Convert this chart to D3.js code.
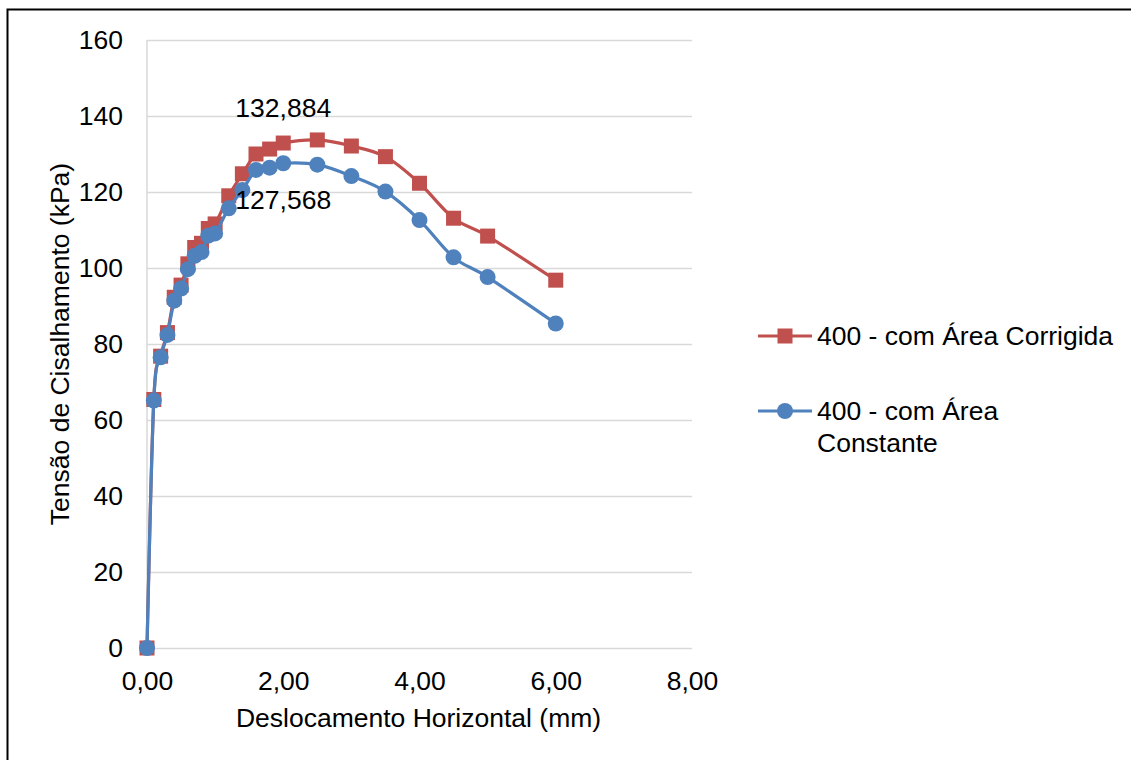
<!DOCTYPE html>
<html>
<head>
<meta charset="utf-8">
<script src="https://cdn.jsdelivr.net/npm/d3@7"></script>
<style>
  html, body { margin: 0; padding: 0; background: #fff; }
  svg { display: block; font-family: "Liberation Sans", Arial, sans-serif; }
</style>
</head>
<body>
<svg id="chart" width="1131" height="760"></svg>
<script>
// Horizontal displacement (mm)
const displacement = [0, 0.1, 0.2, 0.3, 0.4, 0.5, 0.6, 0.7, 0.8, 0.9, 1.0, 1.2, 1.4, 1.6, 1.8, 2.0, 2.5, 3.0, 3.5, 4.0, 4.5, 5.0, 6.0];

// Shear stress (kPa) – corrected area
const stressCorrected = [0, 65.4, 76.8, 83.0, 92.3, 95.5, 101.1, 105.4, 106.5, 110.4, 111.6, 119.0, 124.8, 130.0, 131.3, 132.884, 133.7, 132.1, 129.3, 122.3, 113.1, 108.4, 96.8];

// Shear stress (kPa) – constant area
const stressConstant = [0, 65.1, 76.5, 82.4, 91.4, 94.6, 99.7, 103.2, 104.2, 108.5, 109.1, 115.7, 120.5, 125.8, 126.4, 127.568, 127.2, 124.2, 120.1, 112.6, 102.8, 97.6, 85.4];

const seriesNames = ["400 - com Área Corrigida", "400 - com Área Constante"];
const xTickValues = [0, 2, 4, 6, 8];
const yTickValues = [0, 20, 40, 60, 80, 100, 120, 140, 160];
const peakIndex = 15;

const svg = d3.select("#chart");
const FONT = 26.5;
const red = "#C0504D", blue = "#4F81BD";

// outer frame
svg.append("rect")
  .attr("x", 7.5).attr("y", 9.5).attr("width", 1200).attr("height", 800)
  .attr("fill", "none").attr("stroke", "#000").attr("stroke-width", 2);

const plot = { left: 147, right: 692, top: 40, bottom: 648 };

const x = d3.scaleLinear().domain([0, 8]).range([plot.left, plot.right]);
const y = d3.scaleLinear().domain([0, 160]).range([plot.bottom, plot.top]);

// horizontal gridlines
svg.append("g")
  .attr("transform", `translate(${plot.left},0)`)
  .call(d3.axisLeft(y).tickValues(yTickValues).tickSize(-(plot.right - plot.left)).tickFormat(""))
  .call(g => g.select(".domain").remove())
  .call(g => g.selectAll("line").attr("stroke", "#d9d9d9").attr("stroke-width", 1.5));

// vertical axis line
svg.append("line")
  .attr("x1", plot.left).attr("x2", plot.left)
  .attr("y1", plot.top).attr("y2", plot.bottom)
  .attr("stroke", "#d9d9d9").attr("stroke-width", 1.5);

// y tick labels
svg.append("g")
  .attr("transform", `translate(${plot.left},0)`)
  .call(d3.axisLeft(y).tickValues(yTickValues).tickSize(0).tickPadding(24).tickFormat(d3.format("d")))
  .call(g => g.select(".domain").remove())
  .call(g => g.selectAll("text").attr("font-size", FONT).attr("fill", "#000")
    .attr("font-family", "Liberation Sans, Arial, sans-serif"));

// x tick labels
const fmtX = d => d3.format(".2f")(d).replace(".", ",");
svg.append("g")
  .attr("transform", `translate(0,${plot.bottom})`)
  .call(d3.axisBottom(x).tickValues(xTickValues).tickSize(0).tickPadding(23).tickFormat(fmtX))
  .call(g => g.select(".domain").remove())
  .call(g => g.selectAll("text").attr("font-size", FONT).attr("fill", "#000")
    .attr("font-family", "Liberation Sans, Arial, sans-serif"));

// axis titles
svg.append("text")
  .attr("x", (plot.left + plot.right) / 2 - 1).attr("y", 727)
  .attr("text-anchor", "middle").attr("font-size", FONT)
  .text("Deslocamento Horizontal (mm)");

svg.append("text")
  .attr("transform", `translate(69,${(plot.top + plot.bottom) / 2}) rotate(-90)`)
  .attr("text-anchor", "middle").attr("font-size", FONT)
  .text("Tensão de Cisalhamento (kPa)");

const line = d3.line().curve(d3.curveCatmullRom.alpha(0));

const ptsRed = displacement.map((d, i) => [x(d), y(stressCorrected[i])]);
const ptsBlue = displacement.map((d, i) => [x(d), y(stressConstant[i])]);

// corrected-area series
svg.append("path").attr("d", line(ptsRed))
  .attr("fill", "none").attr("stroke", red).attr("stroke-width", 3.2);
svg.append("g").selectAll("rect").data(ptsRed).join("rect")
  .attr("x", d => d[0] - 7.5).attr("y", d => d[1] - 7.5)
  .attr("width", 15).attr("height", 15).attr("fill", red);

// constant-area series
svg.append("path").attr("d", line(ptsBlue))
  .attr("fill", "none").attr("stroke", blue).attr("stroke-width", 3.2);
svg.append("g").selectAll("circle").data(ptsBlue).join("circle")
  .attr("cx", d => d[0]).attr("cy", d => d[1]).attr("r", 8).attr("fill", blue);

// peak value labels
const fmtLabel = v => d3.format(".3f")(v).replace(".", ",");
svg.append("text")
  .attr("x", x(displacement[peakIndex])).attr("y", y(stressCorrected[peakIndex]) - 26)
  .attr("text-anchor", "middle").attr("font-size", FONT)
  .text(fmtLabel(stressCorrected[peakIndex]));
svg.append("text")
  .attr("x", x(displacement[peakIndex])).attr("y", y(stressConstant[peakIndex]) + 46)
  .attr("text-anchor", "middle").attr("font-size", FONT)
  .text(fmtLabel(stressConstant[peakIndex]));

// legend
const legend = svg.append("g");
const legY = [336, 411];
// red entry
legend.append("line").attr("x1", 758).attr("x2", 812).attr("y1", legY[0]).attr("y2", legY[0])
  .attr("stroke", red).attr("stroke-width", 3.2);
legend.append("rect").attr("x", 777.5).attr("y", legY[0] - 7.5).attr("width", 15).attr("height", 15).attr("fill", red);
legend.append("text").attr("x", 817).attr("y", legY[0] + 9).attr("font-size", FONT).text(seriesNames[0]);
// blue entry
legend.append("line").attr("x1", 758).attr("x2", 812).attr("y1", legY[1]).attr("y2", legY[1])
  .attr("stroke", blue).attr("stroke-width", 3.2);
legend.append("circle").attr("cx", 785).attr("cy", legY[1]).attr("r", 8).attr("fill", blue);
const blueText = legend.append("text").attr("x", 817).attr("y", legY[1] + 9).attr("font-size", FONT);
blueText.append("tspan").attr("x", 817).text("400 - com Área");
blueText.append("tspan").attr("x", 817).attr("dy", 32).text("Constante");
</script>
</body>
</html>
